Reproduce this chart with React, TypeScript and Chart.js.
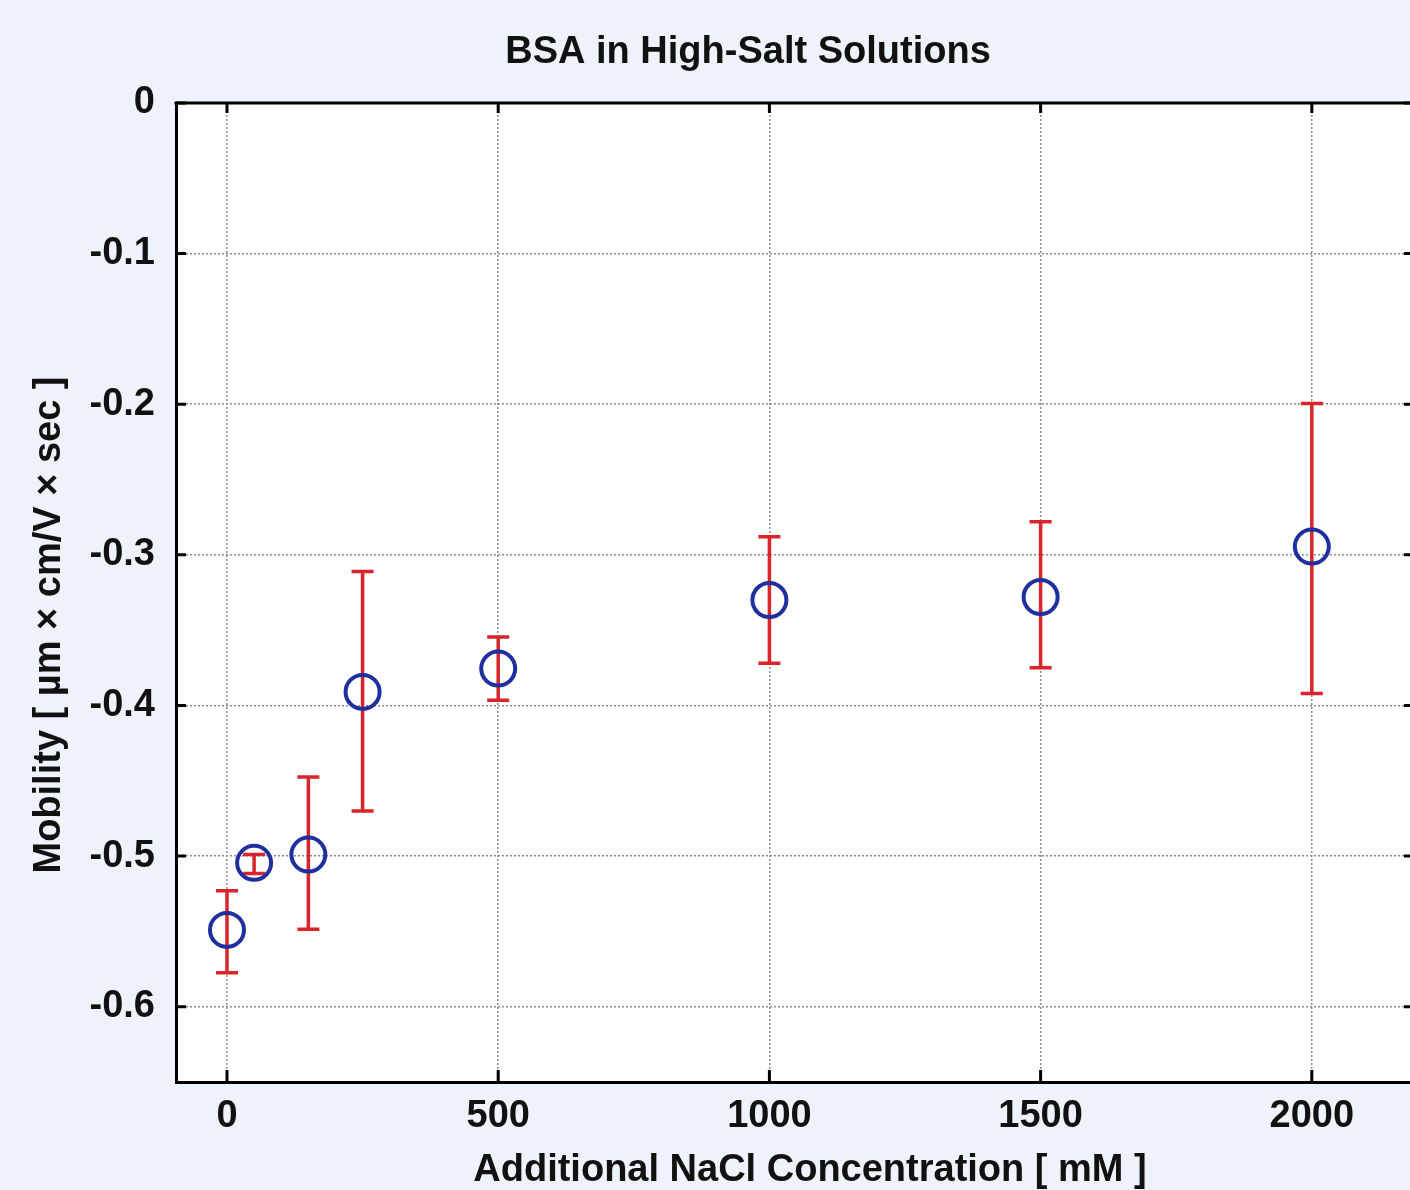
import React, { useEffect, useRef } from "react";
import { Chart, registerables } from "chart.js";

Chart.register(...registerables);

const concentrations = [0, 50, 150, 250, 500, 1000, 1500, 2000];
const mobility = [-0.549, -0.5045, -0.499, -0.391, -0.3755, -0.330, -0.328, -0.2945];
const errUpper = [-0.523, -0.499, -0.4475, -0.311, -0.3545, -0.288, -0.278, -0.1995];
const errLower = [-0.5775, -0.5115, -0.5485, -0.470, -0.3965, -0.372, -0.375, -0.392];
const xTickValues = [0, 500, 1000, 1500, 2000];
const xTickLabels = ["0", "500", "1000", "1500", "2000"];
const yTickValues = [0, -0.1, -0.2, -0.3, -0.4, -0.5, -0.6];
const yTickLabels = ["0", "-0.1", "-0.2", "-0.3", "-0.4", "-0.5", "-0.6"];
const titleText = "BSA in High-Salt Solutions";
const xAxisTitle = "Additional NaCl Concentration [ mM ]";
const yAxisTitle = "Mobility [ µm × cm/V × sec ]";

const FONT = "'Liberation Sans', Arial, sans-serif";

const framePlugin = {
  id: "frame",
  beforeDraw(chart: any) {
    const { ctx, chartArea } = chart;
    ctx.save();
    ctx.fillStyle = "#ffffff";
    ctx.fillRect(chartArea.left, chartArea.top, chartArea.right - chartArea.left, chartArea.bottom - chartArea.top);
    ctx.restore();
  },
  beforeDatasetsDraw(chart: any) {
    const { ctx, scales } = chart;
    const xs = scales.x;
    const ys = scales.y;
    ctx.save();
    ctx.strokeStyle = "#d8242b";
    ctx.lineWidth = 3.5;
    ctx.lineCap = "butt";
    for (let i = 0; i < concentrations.length; i++) {
      const px = xs.getPixelForValue(concentrations[i]);
      const pTop = ys.getPixelForValue(errUpper[i]);
      const pBot = ys.getPixelForValue(errLower[i]);
      ctx.beginPath();
      ctx.moveTo(px, pTop);
      ctx.lineTo(px, pBot);
      ctx.moveTo(px - 11, pTop);
      ctx.lineTo(px + 11, pTop);
      ctx.moveTo(px - 11, pBot);
      ctx.lineTo(px + 11, pBot);
      ctx.stroke();
    }
    ctx.restore();
  },
  afterDraw(chart: any) {
    const { ctx, chartArea, scales } = chart;
    const xs = scales.x;
    const ys = scales.y;
    ctx.save();
    ctx.strokeStyle = "#000";
    ctx.lineWidth = 3;
    // top border
    ctx.beginPath();
    ctx.moveTo(chartArea.left - 1.5, chartArea.top);
    ctx.lineTo(chartArea.right, chartArea.top);
    ctx.stroke();
    // inward ticks
    ctx.beginPath();
    for (const v of xTickValues) {
      const px = xs.getPixelForValue(v);
      ctx.moveTo(px, chartArea.bottom);
      ctx.lineTo(px, chartArea.bottom - 12);
      ctx.moveTo(px, chartArea.top);
      ctx.lineTo(px, chartArea.top + 10);
    }
    for (const v of yTickValues) {
      const py = ys.getPixelForValue(v);
      ctx.moveTo(chartArea.left, py);
      ctx.lineTo(chartArea.left + 10, py);
      ctx.moveTo(chartArea.right, py);
      ctx.lineTo(chartArea.right - 6, py);
    }
    ctx.stroke();

    // texts
    ctx.fillStyle = "#111";
    ctx.font = `bold 38px ${FONT}`;
    ctx.textAlign = "center";
    ctx.textBaseline = "alphabetic";
    ctx.fillText(titleText, 748, 63);
    ctx.fillText(xAxisTitle, 810, 1181);
    ctx.translate(60, 625);
    ctx.rotate(-Math.PI / 2);
    ctx.fillText(yAxisTitle, 0, 0);
    ctx.restore();
  },
};

export default function App() {
  const canvasRef = useRef<HTMLCanvasElement | null>(null);

  useEffect(() => {
    const canvas = canvasRef.current;
    if (!canvas) return;
    const chart = new Chart(canvas, {
      type: "scatter",
      data: {
        datasets: [
          {
            label: "Mobility",
            data: concentrations.map((x, i) => ({ x, y: mobility[i] })),
            pointStyle: "circle",
            pointRadius: 17,
            pointHoverRadius: 17,
            borderWidth: 4,
            borderColor: "#1f2f9e",
            backgroundColor: "rgba(0,0,0,0)",
            showLine: false,
          },
        ],
      },
      options: {
        responsive: false,
        animation: false,
        events: [],
        layout: { autoPadding: false, padding: { top: 103, right: 0, bottom: 0, left: 0 } },
        plugins: {
          legend: { display: false },
          tooltip: { enabled: false },
          title: { display: false },
        },
        scales: {
          x: {
            type: "linear",
            position: "bottom",
            min: -94,
            max: 2181,
            afterFit: (s: any) => {
              s.height = 108;
              s.paddingLeft = 0;
              s.paddingRight = 0;
            },
            afterBuildTicks: (s: any) => {
              s.ticks = xTickValues.map((v) => ({ value: v }));
            },
            grid: {
              color: "#8c8c8c",
              lineWidth: 1.5,
              drawTicks: false,
            },
            border: { display: true, color: "#000", width: 3, dash: [2, 2] },
            ticks: {
              color: "#111",
              font: { family: FONT, size: 38, weight: "bold" },
              padding: 12,
              maxRotation: 0,
              autoSkip: false,
              callback: (v: any) => {
                const idx = xTickValues.indexOf(Number(v));
                return idx >= 0 ? xTickLabels[idx] : "";
              },
            },
          },
          y: {
            type: "linear",
            min: -0.65,
            max: 0,
            afterFit: (s: any) => {
              s.width = 176;
              s.paddingTop = 0;
              s.paddingBottom = 0;
            },
            afterBuildTicks: (s: any) => {
              s.ticks = yTickValues.map((v) => ({ value: v }));
            },
            grid: {
              color: "#8c8c8c",
              lineWidth: 1.5,
              drawTicks: false,
            },
            border: { display: true, color: "#000", width: 3, dash: [2, 2] },
            ticks: {
              color: "#111",
              font: { family: FONT, size: 38, weight: "bold" },
              padding: 21,
              autoSkip: false,
              callback: (v: any) => {
                const idx = yTickValues.findIndex((t) => Math.abs(t - Number(v)) < 1e-9);
                return idx >= 0 ? yTickLabels[idx] : "";
              },
            },
          },
        },
      },
      plugins: [framePlugin],
    });
    return () => {
      chart.destroy();
    };
  }, []);

  return (
    <div
      style={{
        position: "fixed",
        left: 0,
        top: 0,
        width: 1410,
        height: 1190,
        background: "#eef3fb",
      }}
    >
      <canvas ref={canvasRef} width={1410} height={1190} style={{ display: "block" }} />
    </div>
  );
}
